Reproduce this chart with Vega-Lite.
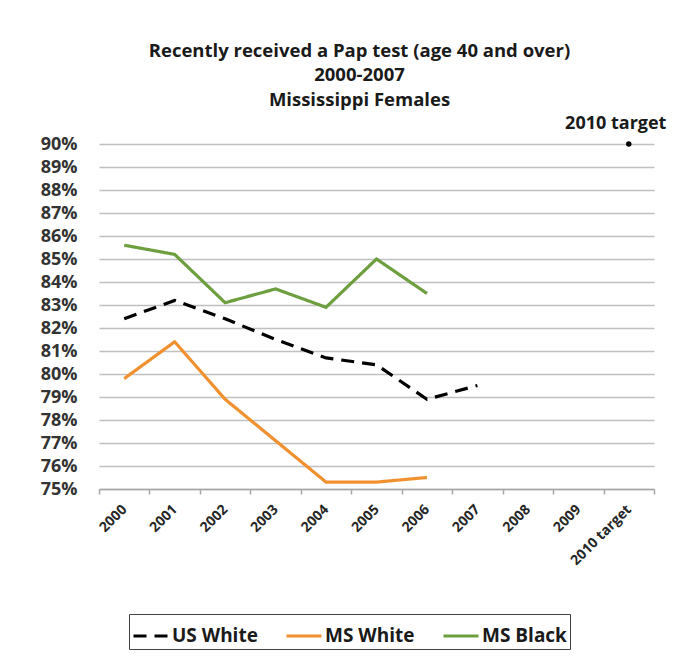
{
  "$schema": "https://vega.github.io/schema/vega-lite/v6.json",
  "width": 555,
  "height": 345,
  "autosize": {"type": "none"},
  "padding": {"left": 99, "top": 144, "right": 32, "bottom": 179},
  "background": "white",
  "title": {
    "text": ["Recently received a Pap test (age 40 and over)", "2000-2007", "Mississippi Females"],
    "font": "Open Sans",
    "fontSize": 18.5,
    "fontWeight": "bold",
    "color": "#1a1a1a",
    "lineHeight": 24.5,
    "anchor": "middle",
    "dx": -17,
    "offset": 6
  },
  "config": {
    "view": {"stroke": null},
    "font": "Open Sans",
    "legend": {
      "labelFont": "Open Sans",
      "labelFontSize": 19,
      "labelFontWeight": "bold",
      "labelColor": "#1a1a1a",
      "symbolType": "stroke",
      "symbolSize": 1225,
      "symbolStrokeWidth": 3,
      "strokeColor": "#404040",
      "padding": 3,
      "columnPadding": 22,
      "labelOffset": 2,
      "labelLimit": 300
    }
  },
  "datasets": {
    "series": [
      {"year": "2000", "series": "US White", "value": 0.824},
      {"year": "2001", "series": "US White", "value": 0.832},
      {"year": "2002", "series": "US White", "value": 0.824},
      {"year": "2003", "series": "US White", "value": 0.815},
      {"year": "2004", "series": "US White", "value": 0.807},
      {"year": "2005", "series": "US White", "value": 0.804},
      {"year": "2006", "series": "US White", "value": 0.789},
      {"year": "2007", "series": "US White", "value": 0.795},
      {"year": "2000", "series": "MS White", "value": 0.798},
      {"year": "2001", "series": "MS White", "value": 0.814},
      {"year": "2002", "series": "MS White", "value": 0.789},
      {"year": "2003", "series": "MS White", "value": 0.771},
      {"year": "2004", "series": "MS White", "value": 0.753},
      {"year": "2005", "series": "MS White", "value": 0.753},
      {"year": "2006", "series": "MS White", "value": 0.755},
      {"year": "2000", "series": "MS Black", "value": 0.856},
      {"year": "2001", "series": "MS Black", "value": 0.852},
      {"year": "2002", "series": "MS Black", "value": 0.831},
      {"year": "2003", "series": "MS Black", "value": 0.837},
      {"year": "2004", "series": "MS Black", "value": 0.829},
      {"year": "2005", "series": "MS Black", "value": 0.850},
      {"year": "2006", "series": "MS Black", "value": 0.835}
    ],
    "target": [
      {"year": "2010 target", "value": 0.90, "label": "2010 target"}
    ]
  },
  "encoding": {
    "x": {
      "field": "year",
      "type": "ordinal",
      "bandPosition": 0.5,
      "scale": {
        "type": "band",
        "domain": ["2000", "2001", "2002", "2003", "2004", "2005", "2006", "2007", "2008", "2009", "2010 target"],
        "paddingInner": 0,
        "paddingOuter": 0
      },
      "axis": {
        "title": null,
        "labelAngle": -45,
        "labelAlign": "right",
        "labelBaseline": "middle",
        "labelFont": "Open Sans",
        "labelFontSize": 14,
        "labelFontWeight": "bold",
        "labelColor": "#262626",
        "labelPadding": 13,
        "domain": true,
        "domainColor": "#a6a6a6",
        "domainWidth": 1.5,
        "ticks": true,
        "tickBand": "extent",
        "tickColor": "#a6a6a6",
        "tickWidth": 1.5,
        "tickSize": 5,
        "grid": false
      }
    },
    "y": {
      "field": "value",
      "type": "quantitative",
      "scale": {"domain": [0.75, 0.9], "nice": false, "zero": false},
      "axis": {
        "title": null,
        "format": ".0%",
        "values": [0.75, 0.76, 0.77, 0.78, 0.79, 0.8, 0.81, 0.82, 0.83, 0.84, 0.85, 0.86, 0.87, 0.88, 0.89, 0.9],
        "labelFont": "Open Sans",
        "labelFontSize": 18,
        "labelFontWeight": "bold",
        "labelColor": "#333333",
        "labelPadding": 22,
        "domain": false,
        "ticks": false,
        "grid": true,
        "gridColor": "#c0c0c0",
        "gridWidth": 1.6
      }
    }
  },
  "layer": [
    {
      "data": {"name": "series"},
      "mark": {"type": "line", "strokeWidth": 3.2, "strokeCap": "butt"},
      "encoding": {
        "color": {
          "field": "series",
          "type": "nominal",
          "scale": {"domain": ["US White", "MS White", "MS Black"], "range": ["#000000", "#f0902f", "#6d9f3f"]},
          "legend": {
            "title": null,
            "orient": "none",
            "direction": "horizontal",
            "legendX": 30,
            "legendY": 470
          }
        },
        "strokeDash": {
          "field": "series",
          "type": "nominal",
          "scale": {"domain": ["US White", "MS White", "MS Black"], "range": [[13, 8], [1, 0], [1, 0]]},
          "legend": {
            "title": null,
            "orient": "none",
            "direction": "horizontal",
            "legendX": 30,
            "legendY": 470
          }
        }
      }
    },
    {
      "data": {"name": "target"},
      "mark": {"type": "point", "filled": true, "color": "#000000", "size": 30, "opacity": 1}
    },
    {
      "data": {"name": "target"},
      "mark": {"type": "text", "font": "Open Sans", "fontSize": 18, "fontWeight": "bold", "color": "#1a1a1a", "align": "center", "baseline": "alphabetic", "dx": -13, "dy": -15},
      "encoding": {"text": {"field": "label"}}
    }
  ]
}
